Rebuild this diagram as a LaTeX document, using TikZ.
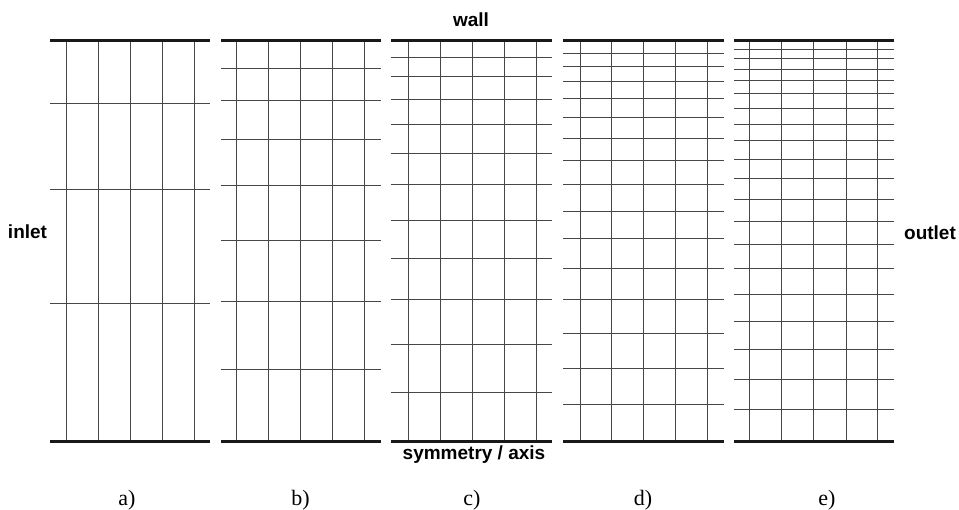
\documentclass[tikz,border=0pt]{standalone}
\usepackage{fontspec}
\setmainfont{Liberation Serif}
\newfontfamily\lblfont{Liberation Sans}
\begin{document}
\begin{tikzpicture}[x=1pt,y=-1pt,
  wallline/.style={line width=2.4pt,black!90},
  gridline/.style={line width=1pt,black!72},
  sidelabel/.style={font=\lblfont\bfseries\fontsize{19}{21}\selectfont,inner sep=0pt,anchor=base},
  panellabel/.style={font=\fontsize{22}{24}\selectfont,inner sep=0pt,anchor=base}]
\useasboundingbox[fill=white] (0,0) rectangle (959,510);
\def\ytop{40.5}
\def\ybot{441.5}
% panel a
\foreach \x in {66.5,98.3,130.3,162.3,194.3} \draw[gridline] (\x,\ytop) -- (\x,\ybot);
\foreach \y in {103.3,189.3,304} \draw[gridline] (50,\y) -- (210,\y);
\draw[wallline] (50,\ytop) -- (210,\ytop);
\draw[wallline] (50,\ybot) -- (210,\ybot);
% panel b
\foreach \x in {236.7,268.3,300.7,332.3,364.3} \draw[gridline] (\x,\ytop) -- (\x,\ybot);
\foreach \y in {68.3,100.7,140,186,240.7,301.7,369.3} \draw[gridline] (221.3,\y) -- (380.7,\y);
\draw[wallline] (221.3,\ytop) -- (380.7,\ytop);
\draw[wallline] (221.3,\ybot) -- (380.7,\ybot);
% panel c
\foreach \x in {408.7,440.3,472.3,504.3,536.3} \draw[gridline] (\x,\ytop) -- (\x,\ybot);
\foreach \y in {57.3,77,99.3,124.3,153.3,185,220.3,258.3,300,344.3,392.3} \draw[gridline] (391.3,\y) -- (551.7,\y);
\draw[wallline] (391.3,\ytop) -- (551.7,\ytop);
\draw[wallline] (391.3,\ybot) -- (551.7,\ybot);
% panel d
\foreach \x in {580.3,611.7,643.7,675.7,707.7} \draw[gridline] (\x,\ytop) -- (\x,\ybot);
\foreach \y in {53.3,66.7,82,99,118,138.3,161,185,211.7,238.3,268.3,300,333.3,368.3,405} \draw[gridline] (563.3,\y) -- (724,\y);
\draw[wallline] (563.3,\ytop) -- (724,\ytop);
\draw[wallline] (563.3,\ybot) -- (724,\ybot);
% panel e
\foreach \x in {749.7,781.3,813.7,846,877.7} \draw[gridline] (\x,\ytop) -- (\x,\ybot);
\foreach \y in {49.3,58.7,69.3,81,94,108.7,124.3,141,159.3,178.7,199.3,221.3,244.3,268.7,295,321.7,350,379.3,410} \draw[gridline] (734,\y) -- (894.3,\y);
\draw[wallline] (734,\ytop) -- (894.3,\ytop);
\draw[wallline] (734,\ybot) -- (894.3,\ybot);
% labels
\node[sidelabel] (wall) at (471,26.5) {wall};
\node[sidelabel] (inlet) at (27.5,238.5) {inlet};
\node[sidelabel] (outlet) at (930,240) {outlet};
\node[sidelabel] (sym) at (474,460) {symmetry / axis};
\node[panellabel] (la) at (127,506) {a)};
\node[panellabel] (lb) at (300.5,506) {b)};
\node[panellabel] (lc) at (472,506) {c)};
\node[panellabel] (ld) at (643,506) {d)};
\node[panellabel] (le) at (827,506) {e)};
\end{tikzpicture}
\end{document}
